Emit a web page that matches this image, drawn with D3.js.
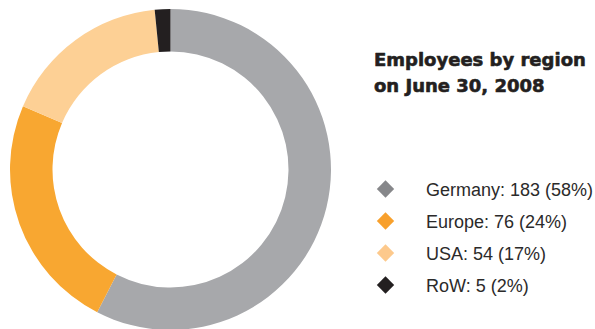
<!DOCTYPE html>
<html>
<head>
<meta charset="utf-8">
<script src="https://cdn.jsdelivr.net/npm/d3@7"></script>
<style>
  html, body { margin: 0; padding: 0; background: #ffffff; }
  svg { display: block; }
</style>
</head>
<body>
<svg id="chart" width="595" height="329"></svg>
<script>
// Employees by region (headcount)
const regions = ["Germany", "Europe", "USA", "RoW"];
const employees = [183, 76, 54, 5];
const shares = ["58%", "24%", "17%", "2%"];
const colors = ["#a7a8ab", "#f8a731", "#fdd095", "#231f20"];
const markerColors = ["#86878a", "#f8a02c", "#fdc98c", "#231f20"];
const titleLines = ["Employees by region", "on June 30, 2008"];

const svg = d3.select("#chart");
const cx = 170.5, cy = 169.5, outerR = 160.5, innerR = 118;

const pie = d3.pie().sort(null).value(d => d.value);
const arc = d3.arc().innerRadius(innerR).outerRadius(outerR);

const data = regions.map((r, i) => ({
  region: r, value: employees[i], color: colors[i], marker: markerColors[i]
}));

svg.append("g")
  .attr("transform", `translate(${cx},${cy})`)
  .selectAll("path")
  .data(pie(data))
  .join("path")
  .attr("d", arc)
  .attr("fill", d => d.data.color);

// Title (heavy weight: bold face plus a thin outline)
const title = svg.append("text")
  .attr("font-family", "'DejaVu Sans', sans-serif")
  .attr("font-weight", "bold")
  .attr("font-size", 18)
  .attr("fill", "#231f20")
  .attr("stroke", "#231f20")
  .attr("stroke-width", 0.6)
  .attr("stroke-linejoin", "round");
titleLines.forEach((t, i) => {
  title.append("tspan").attr("x", 374).attr("y", 65.5 + i * 26).text(t);
});

// Legend
const legendY = d3.scalePoint().domain(regions).range([189, 285]);
const items = svg.append("g").selectAll("g")
  .data(data)
  .join("g")
  .attr("transform", d => `translate(385.5,${legendY(d.region)})`);

items.append("path")
  .attr("d", d3.symbol(d3.symbolSquare, 150)())
  .attr("transform", "rotate(45)")
  .attr("fill", d => d.marker);

items.append("text")
  .attr("x", 40.5)
  .attr("y", 6.5)
  .attr("font-family", "'Liberation Sans', Arial, sans-serif")
  .attr("font-size", 18)
  .attr("fill", "#2b2a2a")
  .text((d, i) => `${d.region}: ${d.value} (${shares[i]})`);
</script>
</body>
</html>
